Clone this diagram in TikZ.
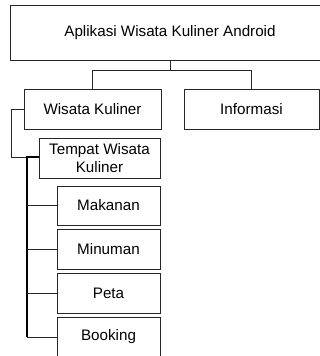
\documentclass[tikz,border=0pt]{standalone}
\usepackage{fontspec}
\setmainfont{Liberation Sans}
\usetikzlibrary{calc}
\begin{document}
\begin{tikzpicture}[x=1pt,y=-1pt,
  box/.style={draw=black!85,line width=1pt,inner sep=0pt,align=center,font=\fontsize{15.2}{18}\selectfont},
  link/.style={draw=black!85,line width=1pt},
  trunk/.style={draw=black,line width=2pt}]
\useasboundingbox (0,0) rectangle (320,356);
\clip (0,0) rectangle (320,356);
% boxes
\node[box,minimum width=320pt,minimum height=55pt] (app) at (170,32.5) {Aplikasi Wisata Kuliner Android};
\node[box,minimum width=137pt,minimum height=40pt] (wk) at (92.5,109) {Wisata Kuliner};
\node[box,minimum width=135pt,minimum height=40pt] (info) at (251.5,109) {Informasi};
\node[box,minimum width=121pt,minimum height=40pt] (twk) at (99.5,158) {Tempat Wisata\\Kuliner};
\node[box,minimum width=103pt,minimum height=39pt] (mak) at (108.5,205.5) {Makanan};
\node[box,minimum width=103pt,minimum height=40pt] (min) at (108.5,249) {Minuman};
\node[box,minimum width=103pt,minimum height=40pt] (peta) at (108.5,293) {Peta};
\node[box,minimum width=103pt,minimum height=40pt] (book) at (108.5,337) {Booking};
% top level branches
\coordinate (split) at ($(app.south)+(0,10)$);
\draw[link] (app.south) -- (split);
\draw[link] (wk.north) |- (split) -| (info.north);
% Wisata Kuliner to its submenu
\coordinate (trunktop) at (27,157);
\draw[link] (wk.west) -- ++(-12,0) |- (trunktop);
\draw[trunk] (twk.west |- trunktop) -- (trunktop) -- (trunktop |- book.west);
\draw[link] (trunktop |- mak.west) -- (mak.west);
\draw[link] (trunktop |- min.west) -- (min.west);
\draw[link] (trunktop |- peta.west) -- (peta.west);
\draw[link] (trunktop |- book.west) -- (book.west);
\end{tikzpicture}
\end{document}
